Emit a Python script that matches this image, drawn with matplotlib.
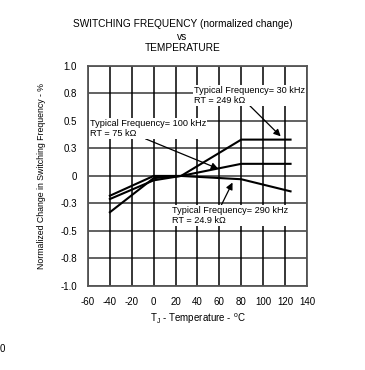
#!/usr/bin/env python3
# -*- coding: utf-8 -*-

import matplotlib
matplotlib.use("Agg")
import matplotlib.pyplot as plt

plt.rcParams['font.family'] = ['Liberation Sans', 'DejaVu Sans']
plt.rcParams['mathtext.default'] = 'regular'

# Données
temp_30k = [-40, 0, 25, 80, 125]
chg_30k = [-0.33, -0.02, 0.0, 0.33, 0.33]

temp_100k = [-40, 0, 25, 80, 125]
chg_100k = [-0.18, 0.0, 0.0, 0.11, 0.11]

temp_290k = [-40, 0, 25, 80, 125]
chg_290k = [-0.21, -0.04, 0.0, -0.03, -0.14]

x_ticks = [-60, -40, -20, 0, 20, 40, 60, 80, 100, 120, 140]
y_ticks = [-1.0, -0.75, -0.5, -0.25, 0, 0.25, 0.5, 0.75, 1.0]
y_tick_labels = ['-1.0', '-0.8', '-0.5', '-0.3', '0', '0.3', '0.5', '0.8', '1.0']


def main():
    fig = plt.figure(figsize=(3.65, 3.70), dpi=100)
    ax = fig.add_axes([0.241, 0.227, 0.600, 0.595])

    # grille : horizontales grises, verticales noires
    for y in y_ticks:
        ax.axhline(y, color='#555555', lw=1.3, zorder=1)
    for x in x_ticks:
        ax.axvline(x, color='black', lw=1.1, zorder=1)

    for t, c in [(temp_30k, chg_30k), (temp_100k, chg_100k), (temp_290k, chg_290k)]:
        ax.plot(t, c, color='black', lw=1.5, zorder=3)

    ax.set_xlim(-60, 140)
    ax.set_ylim(-1.0, 1.0)
    ax.set_xticks(x_ticks)
    ax.set_xticklabels([str(v) for v in x_ticks], fontsize=7)
    ax.set_yticks(y_ticks)
    ax.set_yticklabels(y_tick_labels, fontsize=7)
    ax.tick_params(length=0, pad=8)
    for s in ax.spines.values():
        s.set_color('#555555')
        s.set_linewidth(1.3)

    ax.set_xlabel('T$_J$ - Temperature - $^o$C', fontsize=7, labelpad=3)
    ax.set_ylabel('Normalized Change in Switching Frequency - %', fontsize=6.3, labelpad=10)

    fig.text(0.5, 0.935, 'SWITCHING FREQUENCY (normalized change)', ha='center', va='center', fontsize=7.3)
    fig.text(0.5, 0.901, 'vs', ha='center', va='center', fontsize=7.3)
    fig.text(0.5, 0.871, 'TEMPERATURE', ha='center', va='center', fontsize=7.3)

    # annotations
    box = dict(facecolor='white', edgecolor='none', pad=0.5)

    def arrow(rx, ry):
        return dict(arrowstyle='-|>', color='black', lw=0.9, mutation_scale=10,
                    shrinkA=0, shrinkB=0, relpos=(rx, ry))

    ax.annotate('Typical Frequency= 30 kHz\nRT = 249 k\u03a9', xy=(116, 0.36), xytext=(37, 0.82),
                fontsize=6.6, va='top', ha='left', bbox=box, arrowprops=arrow(0.46, 0.2), zorder=4,
                linespacing=1.2)
    ax.annotate('Typical Frequency= 100 kHz\nRT = 75 k\u03a9', xy=(59, 0.065), xytext=(-58, 0.52),
                fontsize=6.6, va='top', ha='left', bbox=box, arrowprops=arrow(0.42, 0.1), zorder=4,
                linespacing=1.2)
    ax.annotate('Typical Frequency= 290 kHz\nRT = 24.9 k\u03a9', xy=(72, -0.06), xytext=(17, -0.27),
                fontsize=6.6, va='top', ha='left', bbox=box, arrowprops=arrow(0.42, 1.0), zorder=4,
                linespacing=1.2)

    fig.text(0.0, 0.057, '0', fontsize=7, ha='left', va='center')

    fig.savefig('out.png', dpi=100, facecolor='white')


if __name__ == "__main__":
    main()
